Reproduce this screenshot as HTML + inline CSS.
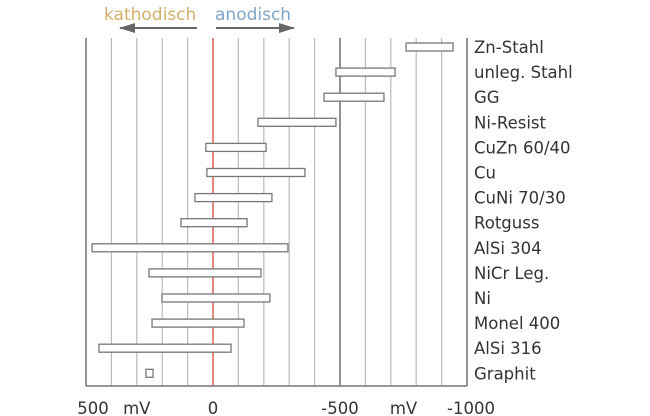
<!DOCTYPE html>
<html><head><meta charset="utf-8"><style>
body{margin:0;background:#fff;}
svg{display:block;font-family:"DejaVu Sans","Liberation Sans",sans-serif;}
</style></head><body>
<svg id="c" width="650" height="416">
<defs><marker id="ah" markerWidth="16" markerHeight="10" refX="15" refY="5" orient="auto" markerUnits="userSpaceOnUse"><path d="M0,0 L16,5 L0,10 z" fill="#666"/></marker></defs>
<g id="grid"></g>
<g id="bars"></g>
<g id="labels"></g>
<text x="104" y="20" font-size="17" fill="#d3b06a">kathodisch</text>
<text x="215" y="20" font-size="17" fill="#7fa4c8">anodisch</text>
<line x1="197" y1="28" x2="120" y2="28" stroke="#666" stroke-width="2" marker-end="url(#ah)"/>
<line x1="216" y1="28" x2="294" y2="28" stroke="#666" stroke-width="2" marker-end="url(#ah)"/>
<g id="ticks"></g>
</svg>
<script>
const categories=["Zn-Stahl","unleg. Stahl","GG","Ni-Resist","CuZn 60/40","Cu","CuNi 70/30","Rotguss","AlSi 304","NiCr Leg.","Ni","Monel 400","AlSi 316","Graphit"];
const lowValues=[-760,-484,-437,-177,28,24,71,126,476,252,201,240,449,264];
const highValues=[-945,-717,-673,-484,-209,-362,-232,-134,-295,-189,-224,-122,-71,236];
const tickValues=[500,0,-500,-1000];
const tickLabels=["500","0","-500","-1000"];
const unitPositions=[300,-750];
const NS="http://www.w3.org/2000/svg";
const xs=v=>213-v*0.254;
const rowY=i=>47+i*25.1;
const plotTop=38,plotBot=386;
function mk(t,a,p){const e=document.createElementNS(NS,t);for(const k in a)e.setAttribute(k,a[k]);p.appendChild(e);return e;}
const g=document.getElementById('grid');
for(let v=500;v>=-1000;v-=100){
 const dark=(v===500||v===-500||v===-1000);
 const e=mk('line',{x1:xs(v),x2:xs(v),y1:plotTop,y2:plotBot,stroke:v===0?'#d9362b':(dark?'#777':'#bbb'),'stroke-width':dark?1.6:1.2},g);
 
 
}
const ax=mk('line',{x1:xs(500),x2:xs(-1000),y1:plotBot,y2:plotBot,stroke:'#777','stroke-width':1.6},g);


const b=document.getElementById('bars'),l=document.getElementById('labels');
categories.forEach((c,i)=>{
 const x1=xs(lowValues[i]),x2=xs(highValues[i]);
 const r=mk('rect',{x:Math.min(x1,x2),y:rowY(i)-4,width:Math.abs(x2-x1),height:8,fill:'#fff',stroke:'#777','stroke-width':1.3},b);
 
 
 const t=mk('text',{x:474,y:rowY(i)+6,'font-size':16.5,fill:'#333'},l);
 t.textContent=c;
 
 
});
const tk=document.getElementById('ticks');
tickValues.forEach((v,i)=>{
 const t=mk('text',{x:xs(v)+(v===500?7:(v===-1000?4:0)),y:414,'font-size':16.5,fill:'#333','text-anchor':'middle'},tk);
 t.textContent=tickLabels[i];
 
 
});
unitPositions.forEach(v=>{
 const t=mk('text',{x:xs(v),y:414,'font-size':16.5,fill:'#333','text-anchor':'middle'},tk);
 t.textContent='mV';
 
 
});
</script>
</body></html>
